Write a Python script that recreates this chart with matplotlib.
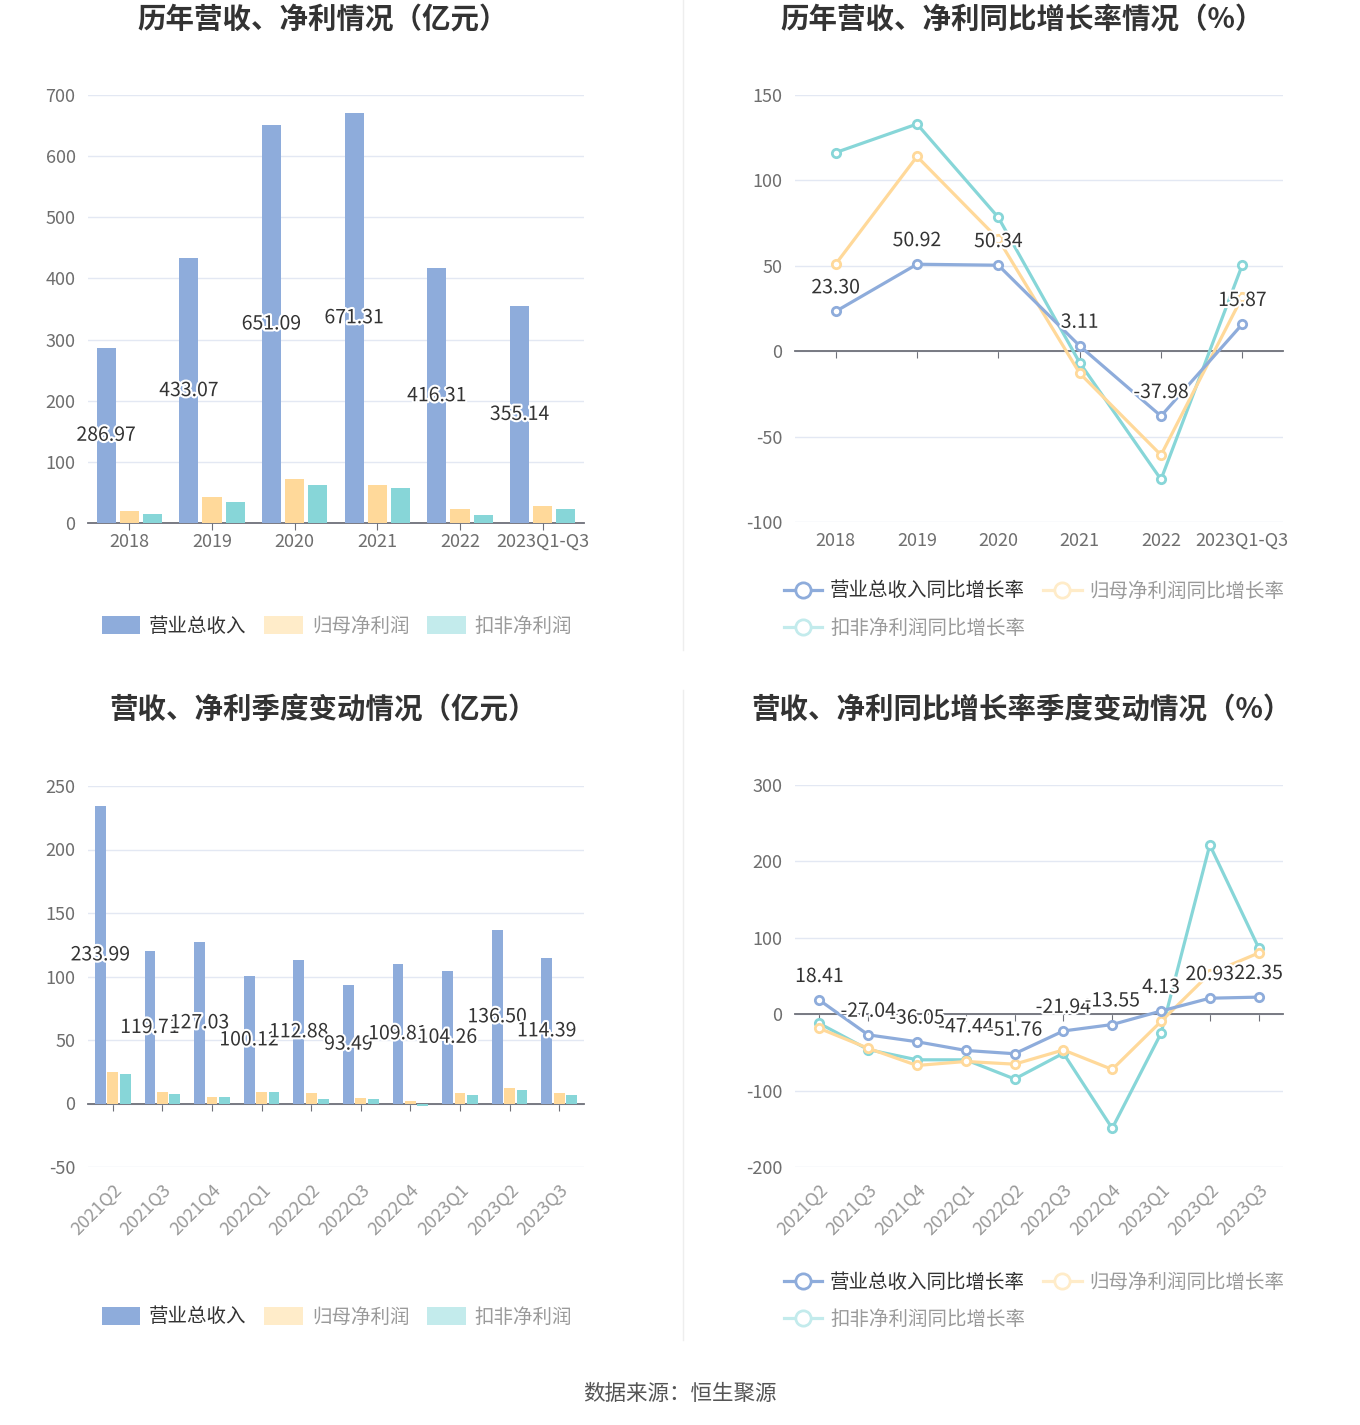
import matplotlib
matplotlib.use('Agg')
import matplotlib.pyplot as plt
import matplotlib.patheffects as pe
from matplotlib.patches import Patch
from matplotlib.lines import Line2D
import numpy as np

plt.rcParams['font.family'] = ['Noto Sans CJK SC', 'DejaVu Sans']

C_BLUE = '#8eacdb'
C_YELLOW = '#ffd99a'
C_CYAN = '#87d6d8'
C_BLUE_L = '#8eacdb'
C_YELLOW_L = '#ffecc9'
C_CYAN_L = '#c3ebec'
C_GRID = '#e3e8f3'
C_AXIS = '#6e7079'
C_TICK = '#6e6e6e'

W, H = 1360, 1425

# annual data
years = ['2018', '2019', '2020', '2021', '2022', '2023Q1-Q3']
rev_year = [286.97, 433.07, 651.09, 671.31, 416.31, 355.14]
np_year = [20.0, 43.0, 72.4, 62.2, 22.7, 28.0]
dnp_year = [14.6, 35.0, 62.7, 57.8, 12.4, 23.2]
rev_yoy_year = [23.30, 50.92, 50.34, 3.11, -37.98, 15.87]
np_yoy_year = [51.0, 114.0, 65.6, -12.9, -60.8, 31.9]
dnp_yoy_year = [116.3, 133.0, 78.3, -6.7, -75.1, 50.6]

# quarterly data
quarters = ['2021Q2', '2021Q3', '2021Q4', '2022Q1', '2022Q2', '2022Q3',
            '2022Q4', '2023Q1', '2023Q2', '2023Q3']
rev_q = [233.99, 119.71, 127.03, 100.12, 112.88, 93.49, 109.81, 104.26, 136.50, 114.39]
np_q = [24.5, 9.1, 5.5, 9.4, 8.3, 4.7, 1.8, 8.3, 12.5, 8.3]
dnp_q = [23.2, 7.8, 5.5, 9.1, 3.6, 3.9, -2.3, 7.0, 10.7, 7.0]
rev_yoy_q = [18.41, -27.04, -36.05, -47.44, -51.76, -21.94, -13.55, 4.13, 20.93, 22.35]
np_yoy_q = [-18.6, -44.6, -67.1, -61.9, -65.4, -46.8, -72.3, -9.5, 53.2, 80.1]
dnp_yoy_q = [-12.1, -46.3, -59.7, -59.7, -84.8, -51.1, -149.4, -25.1, 221.6, 87.0]

bar_names = ['营业总收入', '归母净利润', '扣非净利润']
line_names = ['营业总收入同比增长率', '归母净利润同比增长率', '扣非净利润同比增长率']

fig = plt.figure(figsize=(W / 100, H / 100), dpi=100)


def px_axes(x0, y0, x1, y1):
    return fig.add_axes([x0 / W, 1 - y1 / H, (x1 - x0) / W, (y1 - y0) / H])


def style_axes(ax, cats, ylim, yticks, rotate):
    n = len(cats)
    ax.set_xlim(-0.5, n - 0.5)
    ax.set_ylim(*ylim)
    ax.set_yticks(yticks)
    ax.set_yticklabels([str(v) for v in yticks])
    for s in ['top', 'right', 'left']:
        ax.spines[s].set_visible(False)
    ax.spines['bottom'].set_position(('data', 0))
    ax.spines['bottom'].set_color(C_AXIS)
    ax.spines['bottom'].set_linewidth(1.3)
    ax.set_axisbelow(True)
    ax.grid(axis='y', color=C_GRID, linewidth=1)
    ax.tick_params(axis='y', length=0, pad=9, labelsize=13, labelcolor=C_TICK)
    ax.set_xticks(np.arange(n))
    ax.tick_params(axis='x', direction='out', length=5, color=C_AXIS,
                   labelbottom=False)
    sec = ax.secondary_xaxis(0.0)
    sec.set_xticks(np.arange(n))
    sec.spines['bottom'].set_visible(False)
    if rotate:
        sec.set_xticklabels(cats, rotation=45, ha='right', rotation_mode='anchor')
        sec.tick_params(length=0, pad=10, labelsize=13, labelcolor='#999999')
    else:
        sec.set_xticklabels(cats)
        sec.tick_params(length=0, pad=7, labelsize=13, labelcolor=C_TICK)


def bar_panel(ax, cats, rev, np_, dnp, ylim, yticks, width, off, rotate):
    x = np.arange(len(cats))
    bars = ax.bar(x - off, rev, width, color=C_BLUE, zorder=3)
    ax.bar(x, np_, width, color=C_YELLOW, zorder=3)
    ax.bar(x + off, dnp, width, color=C_CYAN, zorder=3)
    style_axes(ax, cats, ylim, yticks, rotate)
    for b, v in zip(bars, rev):
        ax.text(b.get_x() + b.get_width() / 2, v / 2, f'{v:.2f}', ha='center',
                va='center', fontsize=14, color='#333333', zorder=5,
                path_effects=[pe.withStroke(linewidth=3, foreground='white')])


def line_panel(ax, cats, a, b, c, ylim, yticks, rotate):
    x = np.arange(len(cats))
    for vals, col, z in [(c, C_CYAN, 3), (b, C_YELLOW, 3), (a, C_BLUE, 4)]:
        ax.plot(x, vals, color=col, linewidth=2.3, marker='o', markersize=6,
                markerfacecolor='white', markeredgewidth=2, zorder=z)
    style_axes(ax, cats, ylim, yticks, rotate)
    for xi, v in zip(x, a):
        ax.annotate(f'{v:.2f}', (xi, v), xytext=(0, 17), textcoords='offset points',
                    ha='center', va='center', fontsize=14, color='#333333', zorder=6,
                    path_effects=[pe.withStroke(linewidth=3, foreground='white')])


def bar_legend(y):
    handles = [Patch(facecolor=C_BLUE_L, edgecolor='none'),
               Patch(facecolor=C_YELLOW_L, edgecolor='none'),
               Patch(facecolor=C_CYAN_L, edgecolor='none')]
    leg = fig.legend(handles, bar_names, loc='center left',
                     bbox_to_anchor=(84 / W, 1 - y / H), ncol=3, frameon=False,
                     fontsize=14, handlelength=2.0, handleheight=1.0,
                     columnspacing=0.9, handletextpad=0.45)
    for t, col in zip(leg.get_texts(), ['#333333', '#9a9a9a', '#9a9a9a']):
        t.set_color(col)


def line_legend(y):
    handles = [Line2D([], [], color=col, linewidth=2.3, marker='o', markersize=11,
                      markerfacecolor='white', markeredgewidth=2)
               for col in [C_BLUE, C_YELLOW_L, C_CYAN_L]]
    # column-major fill: put the third item in row 2 of column 1
    order = [0, 2, 1]
    leg = fig.legend([handles[i] for i in order], [line_names[i] for i in order],
                     loc='upper left', bbox_to_anchor=(766 / W, 1 - y / H), ncol=2,
                     frameon=False, fontsize=14, handlelength=2.0, columnspacing=0.9,
                     handletextpad=0.4, labelspacing=0.85)
    for t in leg.get_texts():
        t.set_color('#333333' if t.get_text() == line_names[0] else '#9a9a9a')


title_kw = dict(ha='center', va='center', fontsize=20.5, fontweight='bold', color='#333333')

# top-left
ax1 = px_axes(88, 95, 584, 523)
bar_panel(ax1, years, rev_year, np_year, dnp_year, (0, 700),
          list(range(0, 701, 100)), 0.23, 0.28, False)
fig.text(323 / W, 1 - 20 / H, '历年营收、净利情况（亿元）', **title_kw)
bar_legend(626)

# top-right
ax2 = px_axes(795, 95, 1283, 522)
line_panel(ax2, years, rev_yoy_year, np_yoy_year, dnp_yoy_year, (-100, 150),
           list(range(-100, 151, 50)), False)
fig.text(1022 / W, 1 - 20 / H, '历年营收、净利同比增长率情况（%）', **title_kw)
line_legend(563)

# bottom-left
ax3 = px_axes(88, 786, 584, 1167)
bar_panel(ax3, quarters, rev_q, np_q, dnp_q, (-50, 250),
          list(range(-50, 251, 50)), 0.22, 0.25, True)
fig.text(323 / W, 1 - 711 / H, '营收、净利季度变动情况（亿元）', **title_kw)
bar_legend(1317)

# bottom-right
ax4 = px_axes(795, 785, 1283, 1167)
line_panel(ax4, quarters, rev_yoy_q, np_yoy_q, dnp_yoy_q, (-200, 300),
           list(range(-200, 301, 100)), True)
fig.text(1022 / W, 1 - 711 / H, '营收、净利同比增长率季度变动情况（%）', **title_kw)
line_legend(1254)

# dividers
fig.add_artist(Line2D([683 / W, 683 / W], [1 - 0 / H, 1 - 650 / H], color='#eeeeee', linewidth=1))
fig.add_artist(Line2D([683 / W, 683 / W], [1 - 690 / H, 1 - 1340 / H], color='#eeeeee', linewidth=1))

fig.text(680 / W, 1 - 1394 / H, '数据来源：恒生聚源', ha='center', va='center',
         fontsize=15.5, color='#555555')

fig.savefig('out.png', dpi=100, facecolor='white')
